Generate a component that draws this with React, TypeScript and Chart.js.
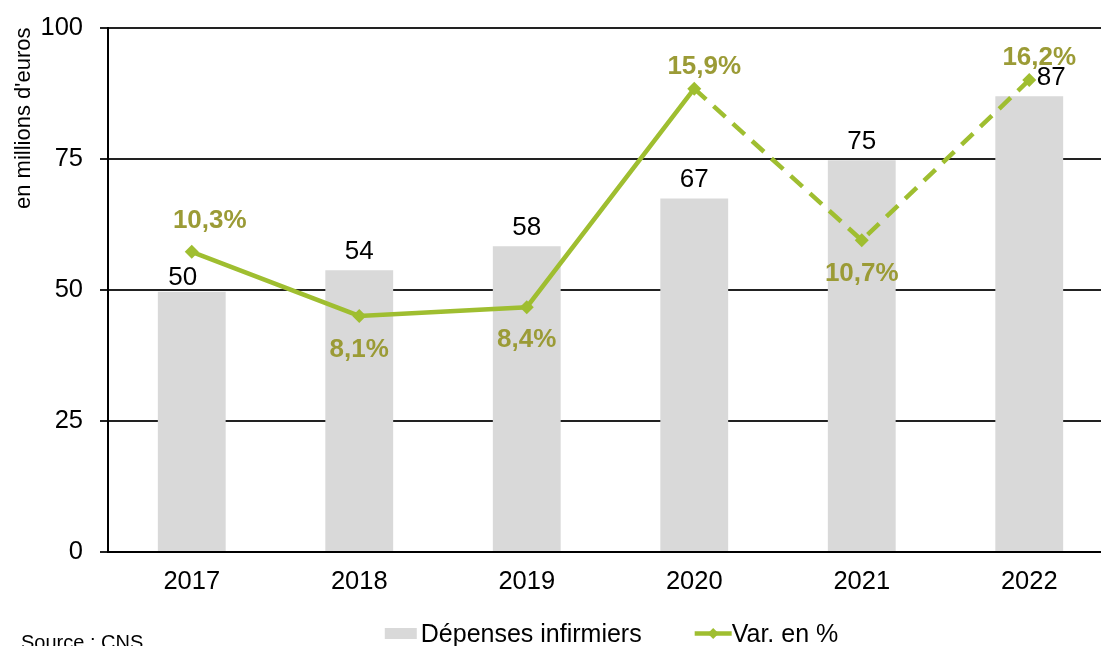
import React, { useEffect, useRef } from 'react';
import { Chart, registerables } from 'chart.js';

Chart.register(...registerables);

// ---- data ----
const years = ['2017', '2018', '2019', '2020', '2021', '2022'];
const depenses = [49.6, 53.7, 58.3, 67.4, 74.7, 86.9];
const variation = [10.3, 8.1, 8.4, 15.9, 10.7, 16.2];
const yTicks = [0, 25, 50, 75, 100];
const dashedFrom = 3; // segments starting at 2020 are dashed

const seriesNames = ['Dépenses infirmiers', 'Var. en %'];
const yTitle = "en millions d'euros";
const sourceText = 'Source : CNS';

// ---- label nudges (style) ----
const barLabelNudge = [[-9, 4], [0, 0], [0, 0], [0, 0], [0, 0], [22, 0]];
const pctLabelNudge = [[18, -24], [0, 41], [0, 40], [10, -15], [0, 41], [10, -15]];

const FONT = '"Liberation Sans", Arial, Helvetica, sans-serif';
const BAR_COLOR = '#d9d9d9';
const LINE_COLOR = '#9fbe30';
const LABEL_OLIVE = '#9b9b36';

const fmtPct = (v: number) => v.toFixed(1).replace('.', ',') + '%';

const labelPlugin = {
  id: 'valueLabels',
  afterDatasetsDraw(chart: any) {
    const ctx = chart.ctx as CanvasRenderingContext2D;
    const barMeta = chart.getDatasetMeta(0);
    const lineMeta = chart.getDatasetMeta(1);
    ctx.save();
    ctx.textAlign = 'center';
    ctx.textBaseline = 'alphabetic';
    ctx.font = `26px ${FONT}`;
    ctx.fillStyle = '#000';
    barMeta.data.forEach((el: any, i: number) => {
      const [dx, dy] = barLabelNudge[i];
      ctx.fillText(String(Math.round(depenses[i])), el.x + dx, el.y - 11 + dy);
    });
    ctx.font = `bold 26px ${FONT}`;
    ctx.fillStyle = LABEL_OLIVE;
    lineMeta.data.forEach((el: any, i: number) => {
      const [dx, dy] = pctLabelNudge[i];
      ctx.fillText(fmtPct(variation[i]), el.x + dx, el.y + dy);
    });
    ctx.restore();
  },
};

const legendPlugin = {
  id: 'customLegend',
  afterDraw(chart: any) {
    const ctx = chart.ctx as CanvasRenderingContext2D;
    const area = chart.chartArea;
    ctx.save();
    ctx.font = `25px ${FONT}`;
    const w1 = ctx.measureText(seriesNames[0]).width;
    const w2 = ctx.measureText(seriesNames[1]).width;
    const boxW = 32, gap1 = 4, spacing = 53, lineW = 37, gap2 = 0;
    const total = boxW + gap1 + w1 + spacing + lineW + gap2 + w2;
    const cx = (area.left + area.right) / 2 + 1;
    let x = cx - total / 2;
    const cy = 633.5;
    const baseline = 641.5;
    // bar item
    ctx.fillStyle = BAR_COLOR;
    ctx.fillRect(x, cy - 5.5, boxW, 11);
    x += boxW + gap1;
    ctx.fillStyle = '#000';
    ctx.textAlign = 'left';
    ctx.textBaseline = 'alphabetic';
    ctx.fillText(seriesNames[0], x, baseline);
    x += w1 + spacing;
    // line item
    ctx.strokeStyle = LINE_COLOR;
    ctx.lineWidth = 4.5;
    ctx.beginPath();
    ctx.moveTo(x, cy);
    ctx.lineTo(x + lineW, cy);
    ctx.stroke();
    const mx = x + lineW / 2;
    ctx.fillStyle = LINE_COLOR;
    ctx.beginPath();
    ctx.moveTo(mx - 5.5, cy);
    ctx.lineTo(mx, cy - 5.5);
    ctx.lineTo(mx + 5.5, cy);
    ctx.lineTo(mx, cy + 5.5);
    ctx.closePath();
    ctx.fill();
    x += lineW + gap2;
    ctx.fillStyle = '#000';
    ctx.fillText(seriesNames[1], x, baseline);
    // source
    ctx.font = `20px ${FONT}`;
    ctx.fillText(sourceText, 21, 648.5);
    ctx.restore();
  },
};

export default function App() {
  const ref = useRef<HTMLCanvasElement | null>(null);

  useEffect(() => {
    if (!ref.current) return;
    Chart.defaults.font.family = FONT;
    Chart.defaults.color = '#000';
    const chart = new Chart(ref.current, {
      type: 'bar',
      data: {
        labels: years,
        datasets: [
          {
            type: 'bar',
            label: seriesNames[0],
            data: depenses,
            backgroundColor: BAR_COLOR,
            borderWidth: 0,
            barPercentage: 0.405,
            categoryPercentage: 1,
            yAxisID: 'y',
            order: 2,
          },
          {
            type: 'line',
            label: seriesNames[1],
            data: variation,
            borderColor: LINE_COLOR,
            backgroundColor: LINE_COLOR,
            borderWidth: 4.5,
            tension: 0,
            fill: false,
            pointStyle: 'rectRot',
            pointRadius: 7,
            pointBorderWidth: 0,
            pointBackgroundColor: LINE_COLOR,
            yAxisID: 'y1',
            order: 1,
            segment: {
              borderDash: (c: any) => (c.p0DataIndex >= dashedFrom ? [16, 10] : undefined),
            },
          } as any,
        ],
      },
      options: {
        responsive: false,
        devicePixelRatio: 1,
        animation: false,
        layout: { padding: { top: 27.5, right: 4, bottom: 44, left: 0 } },
        plugins: {
          legend: { display: false },
          tooltip: { enabled: false },
        },
        scales: {
          x: {
            grid: { display: true, drawOnChartArea: false, drawTicks: false },
            border: { display: true, color: '#000', width: 2 },
            ticks: { font: { size: 25.5 }, color: '#000', padding: 15 },
            afterFit: (s: any) => {
              s.height = 50;
            },
          },
          y: {
            min: 0,
            max: 100,
            afterBuildTicks: (s: any) => {
              s.ticks = yTicks.map((v) => ({ value: v }));
            },
            grid: { color: '#222', lineWidth: 2, tickLength: 8, drawTicks: true },
            border: { display: true, color: '#000', width: 2 },
            ticks: { font: { size: 25.5 }, color: '#000', padding: 17 },
            title: {
              display: true,
              text: yTitle,
              align: 'end',
              font: { size: 22 },
              color: '#000',
              padding: { top: 11, bottom: 0 },
            },
            afterFit: (s: any) => {
              s.width = 108;
              s.paddingTop = 0;
              s.paddingBottom = 0;
            },
          },
          y1: {
            display: false,
            min: 0,
            max: 18,
          },
        },
      },
      plugins: [labelPlugin, legendPlugin],
    } as any);
    return () => chart.destroy();
  }, []);

  return (
    <div
      style={{
        position: 'fixed',
        left: 0,
        top: 0,
        width: 1101,
        height: 646,
        overflow: 'hidden',
        background: '#fff',
      }}
    >
      <canvas ref={ref} width={1120} height={646} style={{ display: 'block' }} />
    </div>
  );
}
